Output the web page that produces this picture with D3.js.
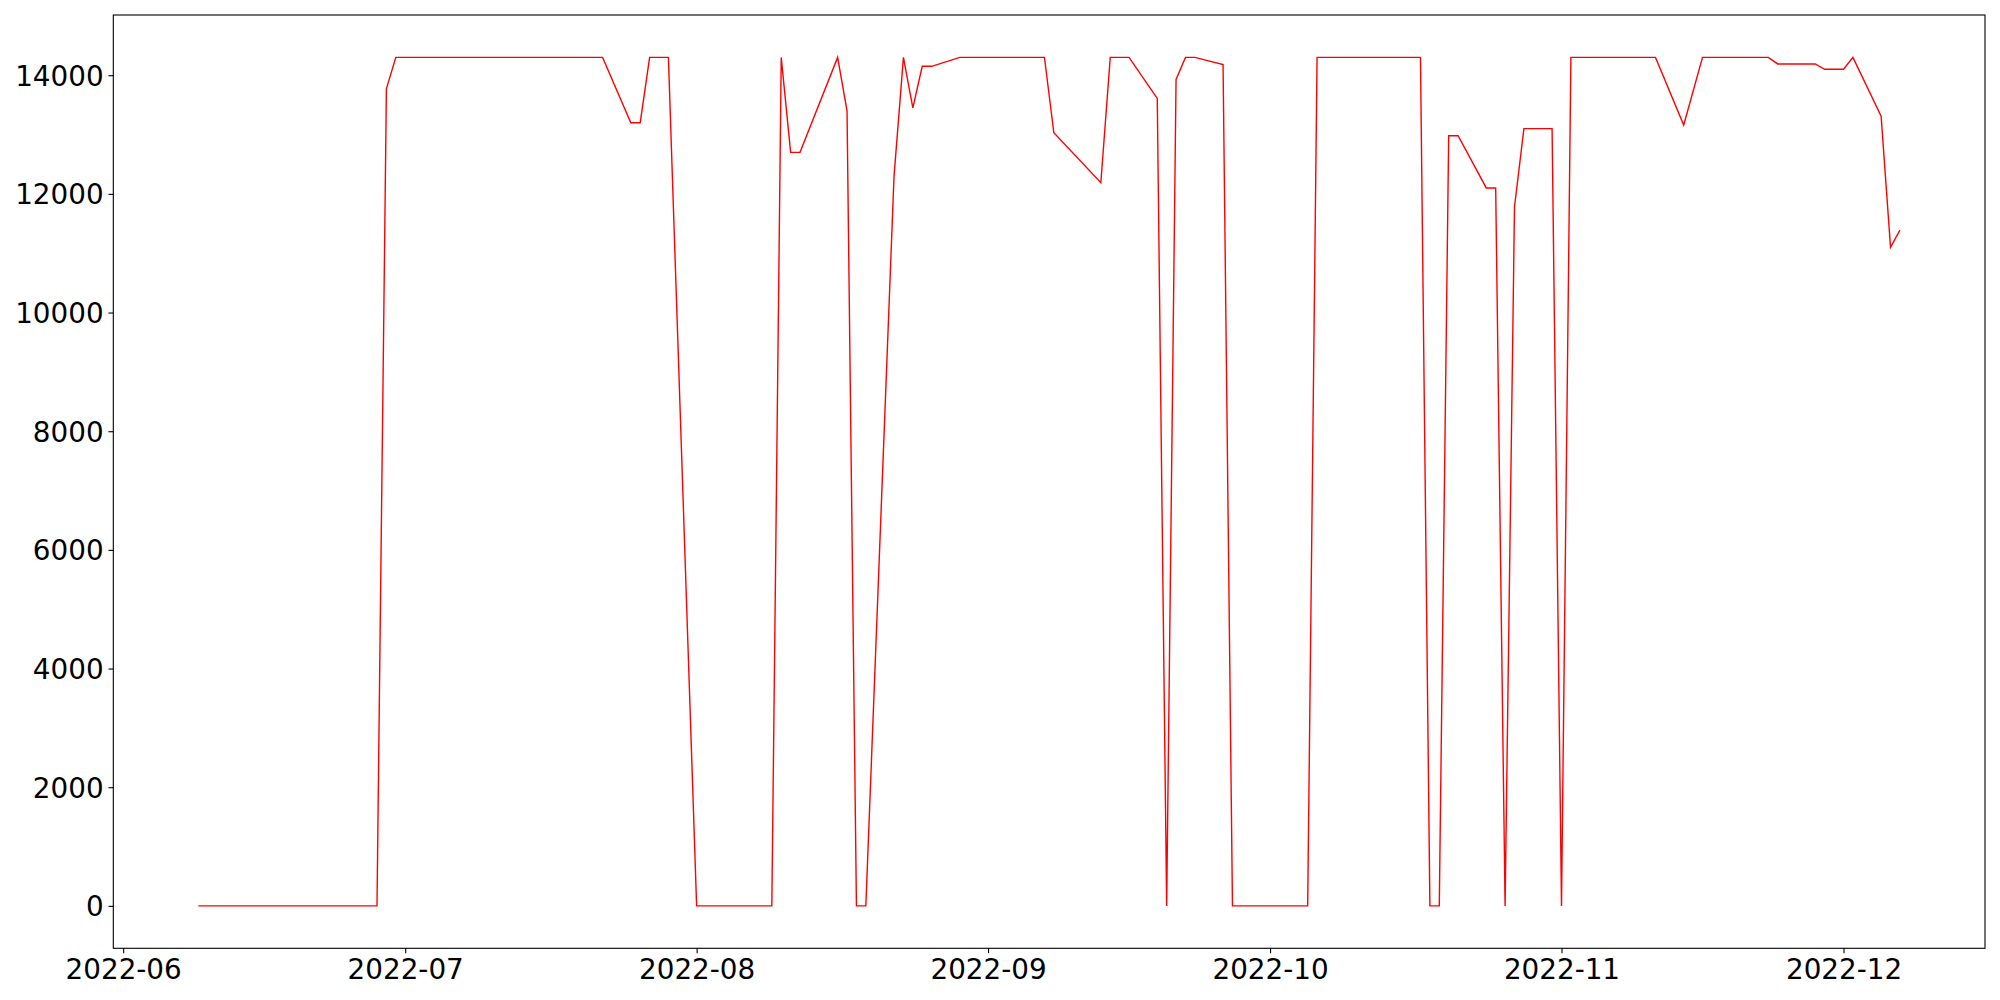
<!DOCTYPE html>
<html>
<head>
<meta charset="utf-8">
<script src="https://d3js.org/d3.v7.min.js"></script>
<style>
    body { margin: 0; background: #fff; }
    svg text { font-family: "DejaVu Sans", sans-serif; }
</style>
</head>
<body>
<div id="canvas"></div>
<script>
// data
const dates = ["2022-06-09", "2022-06-28", "2022-06-29", "2022-06-30", "2022-07-22", "2022-07-25",
    "2022-07-26", "2022-07-27", "2022-07-29", "2022-08-01", "2022-08-09", "2022-08-10", "2022-08-11",
    "2022-08-12", "2022-08-16", "2022-08-17", "2022-08-18", "2022-08-19", "2022-08-22", "2022-08-23",
    "2022-08-24", "2022-08-25", "2022-08-26", "2022-08-29", "2022-09-07", "2022-09-08", "2022-09-13",
    "2022-09-14", "2022-09-16", "2022-09-19", "2022-09-20", "2022-09-21", "2022-09-22", "2022-09-23",
    "2022-09-26", "2022-09-27", "2022-10-05", "2022-10-06", "2022-10-17", "2022-10-18", "2022-10-19",
    "2022-10-20", "2022-10-21", "2022-10-24", "2022-10-25", "2022-10-26", "2022-10-27", "2022-10-28",
    "2022-10-31", "2022-11-01", "2022-11-02", "2022-11-11", "2022-11-14", "2022-11-16", "2022-11-23",
    "2022-11-24", "2022-11-28", "2022-11-29", "2022-12-01", "2022-12-02", "2022-12-05", "2022-12-06",
    "2022-12-07"];
const values = [0, 0, 13770, 14300, 14300, 13200,
    13200, 14300, 14300, 0, 0, 14300, 12700,
    12700, 14300, 13400, 0, 0, 12300, 14300,
    13450, 14150, 14150, 14300, 14300, 13030, 12190,
    14300, 14300, 13610, 0, 13930, 14300, 14300,
    14180, 0, 0, 14300, 14300, 0, 0,
    12980, 12980, 12100, 12100, 0, 11780, 13100,
    13100, 0, 14300, 14300, 13160, 14300, 14300,
    14190, 14190, 14100, 14100, 14300, 13310, 11100,
    11390];
const yTicks = [0, 2000, 4000, 6000, 8000, 10000, 12000, 14000];
const xTickFormat = "%Y-%m";

const width = 2000, height = 1000;
const margin = {top: 15, right: 15, bottom: 51.7, left: 113.3};
const fontSize = 27.8;
const tickLen = 4.86;

const parse = d3.utcParse("%Y-%m-%d");
const data = dates.map((d, i) => ({date: parse(d), value: values[i]}));

// matplotlib style 5% margins round the data
const xExt = d3.extent(data, d => d.date);
const xPad = (xExt[1] - xExt[0]) * 0.05;
const yExt = d3.extent(data, d => d.value);
const yPad = (yExt[1] - yExt[0]) * 0.05;

let xScale = d3.scaleUtc()
    .domain([new Date(+xExt[0] - xPad), new Date(+xExt[1] + xPad)])
    .range([margin.left, width - margin.right]);

let yScale = d3.scaleLinear()
    .domain([yExt[0] - yPad, yExt[1] + yPad])
    .range([height - margin.bottom, margin.top]);

const svg = d3.select('#canvas').append('svg')
    .attr('width', width)
    .attr('height', height)
    .style('background', '#fff');

// x axis
const xAxis = svg.append('g')
    .attr('transform', `translate(0,${height - margin.bottom})`)
    .call(d3.axisBottom(xScale)
        .ticks(d3.utcMonth.every(1))
        .tickFormat(d3.utcFormat(xTickFormat))
        .tickSize(tickLen)
        .tickSizeOuter(0)
        .tickPadding(tickLen));
xAxis.selectAll('text')
    .attr('font-size', fontSize)
    .attr('fill', '#000')
    .attr('dy', '0.76em');

// y axis, plain numbers without thousands separator
const yAxis = svg.append('g')
    .attr('transform', `translate(${margin.left},0)`)
    .call(d3.axisLeft(yScale)
        .tickValues(yTicks)
        .tickFormat(d3.format('d'))
        .tickSize(tickLen)
        .tickSizeOuter(0)
        .tickPadding(tickLen));
yAxis.selectAll('text')
    .attr('font-size', fontSize)
    .attr('fill', '#000')
    .attr('dy', '0.36em');

svg.selectAll('.domain').remove();
svg.selectAll('.tick line').attr('stroke', '#000').attr('stroke-width', 1.1);

// the line itself
const line = d3.line()
    .x(d => xScale(d.date))
    .y(d => yScale(d.value));

svg.append('path')
    .datum(data)
    .attr('fill', 'none')
    .attr('stroke', '#ff0000')
    .attr('stroke-width', 1.4)
    .attr('stroke-linejoin', 'miter')
    .attr('d', line);

// frame round the plot
svg.append('rect')
    .attr('x', margin.left)
    .attr('y', margin.top)
    .attr('width', width - margin.left - margin.right)
    .attr('height', height - margin.top - margin.bottom)
    .attr('fill', 'none')
    .attr('stroke', '#000')
    .attr('stroke-width', 1.1);
</script>
</body>
</html>
